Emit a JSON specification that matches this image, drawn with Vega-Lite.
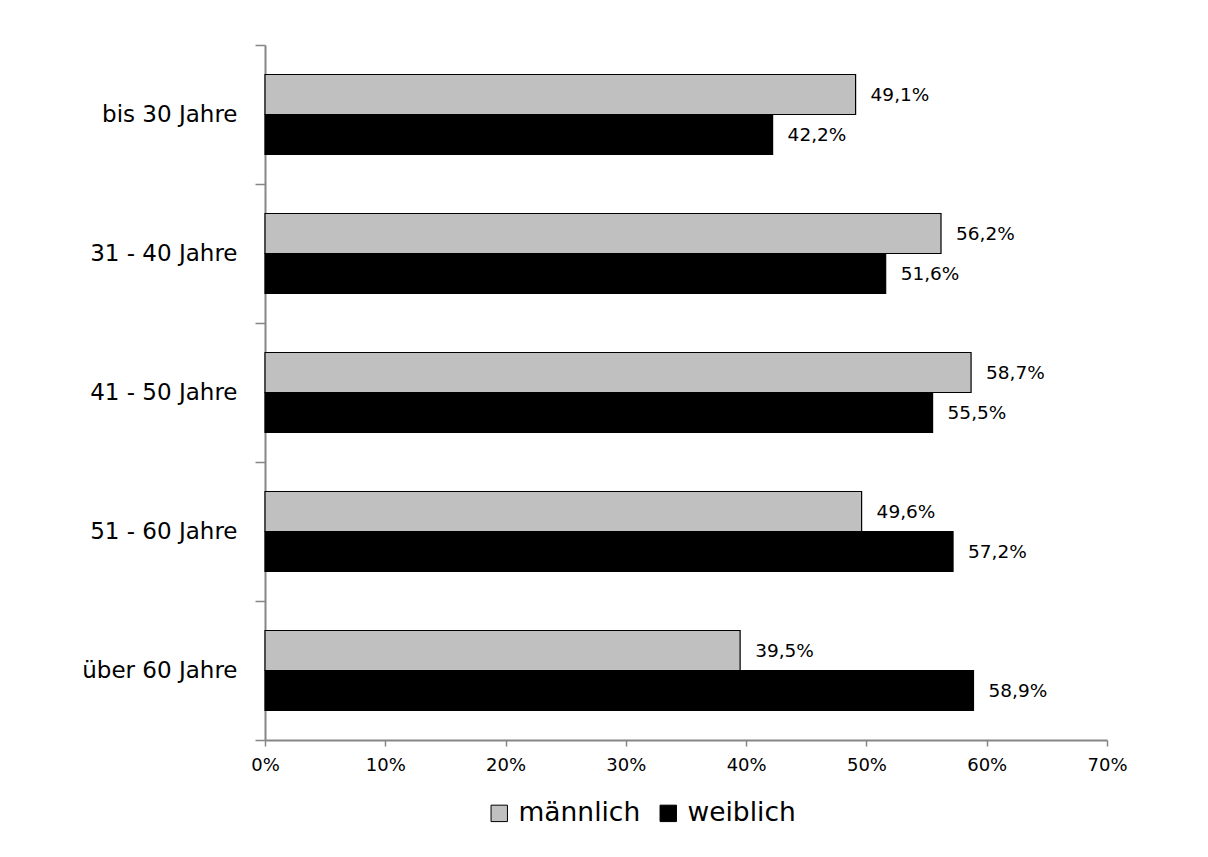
{
  "$schema": "https://vega.github.io/schema/vega-lite/v6.json",
  "autosize": {"type": "none"},
  "padding": {"left": 265, "top": 45, "right": 101, "bottom": 117},
  "width": 842,
  "height": 695,
  "background": "white",
  "config": {
    "locale": {"number": {"decimal": ",", "thousands": ".", "grouping": [3], "currency": ["", " €"]}},
    "view": {"stroke": null},
    "font": "DejaVu Sans"
  },
  "data": {
    "values": [
      {"gruppe": "bis 30 Jahre", "geschlecht": "männlich", "anteil": 0.491},
      {"gruppe": "bis 30 Jahre", "geschlecht": "weiblich", "anteil": 0.422},
      {"gruppe": "31 - 40 Jahre", "geschlecht": "männlich", "anteil": 0.562},
      {"gruppe": "31 - 40 Jahre", "geschlecht": "weiblich", "anteil": 0.516},
      {"gruppe": "41 - 50 Jahre", "geschlecht": "männlich", "anteil": 0.587},
      {"gruppe": "41 - 50 Jahre", "geschlecht": "weiblich", "anteil": 0.555},
      {"gruppe": "51 - 60 Jahre", "geschlecht": "männlich", "anteil": 0.496},
      {"gruppe": "51 - 60 Jahre", "geschlecht": "weiblich", "anteil": 0.572},
      {"gruppe": "über 60 Jahre", "geschlecht": "männlich", "anteil": 0.395},
      {"gruppe": "über 60 Jahre", "geschlecht": "weiblich", "anteil": 0.589}
    ]
  },
  "encoding": {
    "y": {
      "field": "gruppe",
      "type": "nominal",
      "sort": ["bis 30 Jahre", "31 - 40 Jahre", "41 - 50 Jahre", "51 - 60 Jahre", "über 60 Jahre"],
      "scale": {"paddingInner": 0, "paddingOuter": 0},
      "axis": {
        "title": null,
        "tickBand": "extent",
        "domainColor": "#868686",
        "domainWidth": 2,
        "tickColor": "#868686",
        "tickWidth": 1.5,
        "tickSize": 10,
        "labelPadding": 18,
        "labelFontSize": 23,
        "labelColor": "#000000",
        "labelFont": "DejaVu Sans"
      }
    },
    "yOffset": {
      "field": "geschlecht",
      "type": "nominal",
      "sort": ["männlich", "weiblich"],
      "scale": {"paddingInner": 0, "paddingOuter": 0.7375}
    },
    "x": {
      "field": "anteil",
      "type": "quantitative",
      "scale": {"domain": [0, 0.7], "nice": false, "zero": true},
      "axis": {
        "title": null,
        "values": [0, 0.1, 0.2, 0.3, 0.4, 0.5, 0.6, 0.7],
        "format": ".0%",
        "grid": false,
        "labelFlush": false,
        "domainColor": "#868686",
        "domainWidth": 2,
        "tickColor": "#868686",
        "tickWidth": 1.5,
        "tickSize": 6,
        "labelPadding": 10,
        "labelFontSize": 18,
        "labelColor": "#000000",
        "labelFont": "DejaVu Sans"
      }
    }
  },
  "layer": [
    {
      "mark": {"type": "bar", "stroke": "#000000", "strokeWidth": 1.2},
      "encoding": {
        "color": {
          "field": "geschlecht",
          "type": "nominal",
          "scale": {"domain": ["männlich", "weiblich"], "range": ["#c0c0c0", "#000000"]},
          "legend": {
            "title": null,
            "orient": "none",
            "direction": "horizontal",
            "legendX": 221,
            "legendY": 755,
            "padding": 0,
            "symbolType": "square",
            "symbolSize": 270,
            "symbolStrokeColor": "#000000",
            "symbolStrokeWidth": 1,
            "labelFontSize": 26.5,
            "labelFont": "DejaVu Sans",
            "labelColor": "#000000",
            "labelOffset": 6,
            "columnPadding": 14
          }
        }
      }
    },
    {
      "mark": {"type": "text", "align": "left", "baseline": "middle", "dx": 15, "fontSize": 18.5, "font": "DejaVu Sans", "color": "#000000"},
      "encoding": {
        "text": {"field": "anteil", "type": "quantitative", "format": ".1%"}
      }
    }
  ]
}
